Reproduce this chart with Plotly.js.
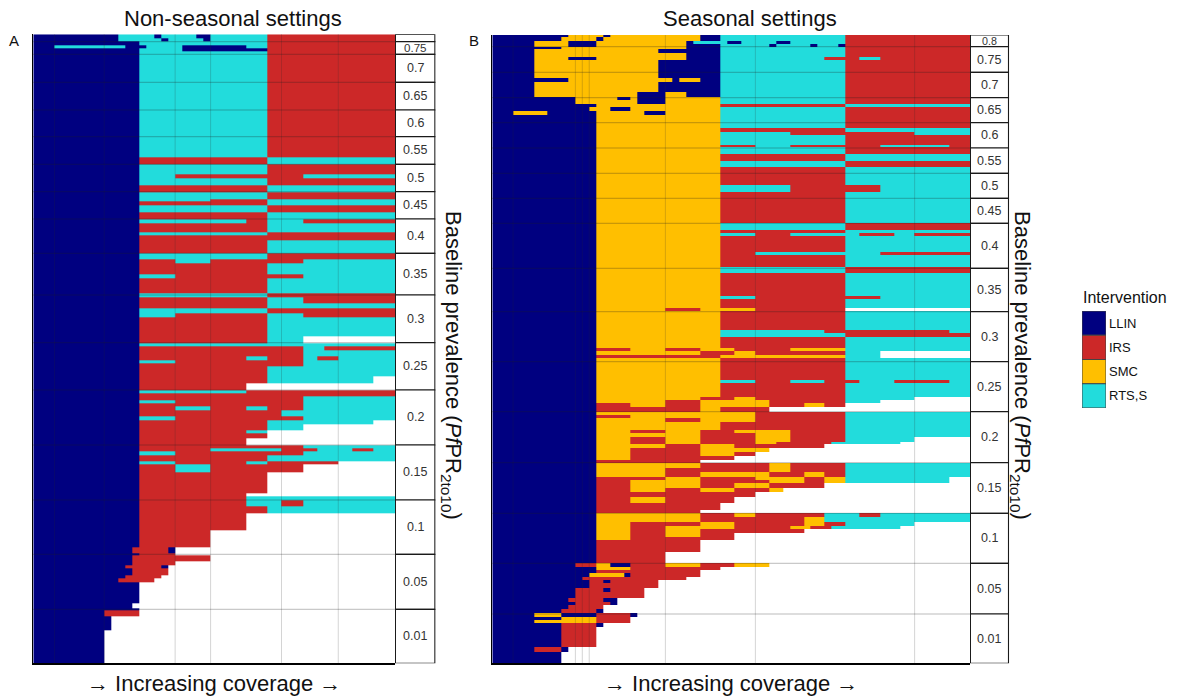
<!DOCTYPE html>
<html>
<head>
<meta charset="utf-8">
<script src="https://cdn.plot.ly/plotly-3.0.1.min.js"></script>
<style>html,body{margin:0;padding:0;background:#fff;}#chart{width:1177px;height:696px;}</style>
</head>
<body>
<div id="chart"></div>
<script>
// ---------------- DATA ----------------
const interventions = ['LLIN', 'IRS', 'SMC', 'RTS,S'];
const runCodes = ['W', 'L', 'R', 'S', 'T']; // W = no intervention added

// Panel A (non-seasonal): 51 coverage steps
const nColsA = 51;
const bandLabelsA = ['', '0.75', '0.7', '0.65', '0.6', '0.55', '0.5', '0.45', '0.4', '0.35', '0.3', '0.25', '0.2', '0.15', '0.1', '0.05', '0.01'];
const bandSizesA = [7.4, 12.6, 28, 27.7, 26.7, 27.6, 27.4, 27.3, 34.3, 41.7, 47.7, 47.3, 55, 55, 54.3, 55, 54];
const rowSizesA = [4.0, 3.4, 3.5, 3.1, 3.0, 106.4, 6.6, 10.0, 4.0, 6.7, 7.3, 6.7, 2.7, 4.0, 6.6, 6.7, 4.3, 9.4, 2.3, 5.0,
  13.3, 6.0, 4.0, 11.0, 4.0, 15.0, 4.0, 6.0, 4.7, 5.3, 3.7, 19.0, 7.3, 2.7, 4.0, 6.0, 4.0, 3.3, 3.4, 10.0,
  6.6, 6.7, 3.3, 3.4, 3.3, 3.3, 3.4, 3.3, 6.0, 4.0, 4.0, 6.0, 3.3, 4.7, 7.0, 3.3, 3.4, 3.3, 6.7, 2.3,
  8.0, 21.3, 2.7, 4.0, 6.0, 7.0, 17.0, 17.0, 6.0, 2.0, 6.0, 4.0, 3.3, 6.7, 3.3, 3.7, 21.0, 5.0, 2.0, 6.0,
  14.0, 33.3];
const rowRunsA = ['L12T5L1T5L2T8R18', 'L12T6L1T5L1T8R18', 'L15T18R18', 'L3T10L3T5L9T3R18', 'L15T6L12R18',
  'L15T18R18', 'L15R18T18', 'L15T18R18', 'L15T5R18T13', 'L15T18R18', 'L15R18T18', 'L15T18R18', 'L15T10R8T18',
  'L15R18T18', 'L15T18R18', 'L15R18T18', 'L15T15R3T5R13', 'L15R18T18', 'L15T18R18', 'L15R36',
  'L15R18T18', 'L15T18R18', 'L15R5T5R13T13', 'L15R18T18', 'L15T5R18T13', 'L15R18T18', 'L15T18R18', 'L15R18T5R13',
  'L15R18T18', 'L15T18R18', 'L15T5R13T5R13', 'L15R18T18', 'L15R18T5W13', 'L15T36', 'L15R23T3R10', 'L15R23T13',
  'L15R15T3R5T2R3T8', 'L15T5R18T13', 'L15R23T13', 'L15R18T18', 'L15R18T15W3', 'L15R15W21', 'L15T15R21', 'L15R36',
  'L15R23T13', 'L15T5R18T13', 'L15R23T13', 'L15R5T5R5T3R5T13', 'L15R20T16', 'L15T5R18T13', 'L15R18T15W3',
  'L15R18T5W13', 'L15R15T3W18', 'L15R18W18', 'L15R15W21', 'L15R23T13', 'L15R10T10R5T5R3T3', 'L15T5R18T13',
  'L15R18T18', 'L15T5R10T3R10W8', 'L15R5T5R13W13', 'L15R18W18', 'L15R15W21', 'L15R15T21', 'L15R15T5R3T13',
  'L15R18T18', 'L15R15W21', 'L15R10W26', 'L14R5L1W31', 'L15R5W31', 'L14R11W26', 'L14R6W31', 'L13R5L1W32',
  'L14R5W32', 'L13R5W33', 'L12R5W34', 'L15W36', 'L14W37', 'L15W36', 'L10R5W36', 'L11W40', 'L10W41'];

// Panel B (seasonal): 69 coverage steps
const nColsB = 69;
const bandLabelsB = ['0.8', '0.75', '0.7', '0.65', '0.6', '0.55', '0.5', '0.45', '0.4', '0.35', '0.3', '0.25', '0.2', '0.15', '0.1', '0.05', '0.01'];
const bandSizesB = [11.7, 25.6, 25.4, 25, 25.3, 25.3, 25, 25, 45, 43.4, 50, 50, 51, 50.6, 50, 50.7, 49.3];
const rowSizesB = [1.7, 4.0, 3.3, 2.7, 2.6, 4.0, 3.4, 3.3, 18.3, 3.4, 10.0, 5.6, 2.7, 4.0, 3.3, 3.7, 4.0, 13.3, 3.4, 3.3,
  10.0, 2.3, 6.7, 6.7, 6.0, 18.3, 6.7, 31.6, 6.7, 2.7, 3.0, 16.0, 3.3, 11.7, 6.6, 22.7, 3.0, 9.3, 2.4, 19.3,
  3.3, 3.4, 11.6, 2.7, 4.0, 3.0, 22.0, 3.3, 13.4, 3.3, 3.3, 4.0, 4.4, 3.3, 3.3, 3.4, 8.3, 3.0, 4.0, 4.7,
  2.3, 4.0, 3.7, 4.3, 4.0, 3.3, 4.7, 4.0, 4.7, 3.3, 3.3, 5.0, 4.0, 4.4, 6.6, 6.7, 3.3, 3.7, 4.7, 4.3,
  3.3, 3.7, 3.7, 3.3, 4.0, 7.7, 11.6, 3.7, 3.0, 3.3, 3.7, 3.0, 3.0, 5.3, 3.7, 6.3, 3.7, 3.0, 4.0, 4.3,
  3.4, 3.3, 3.0, 3.7, 20.0, 5.6, 11.0];
const rowRunsB = ['L11S5L1S13L3T18R18', 'L10S5L1S14L3T18R18', 'L6S5L4S13L1T5L2T5L2T8R18', 'L6S5L4S13L5T7L1T5L1T3L1R18',
  'L10S18L5T18R18', 'L6S18L9T18R18', 'L6S22L5T18R18', 'L6S5L4S13L5T15R5T3R13', 'L6S18L9T18R18', 'L11S15L1S3L3T18R18',
  'L6S18L9T18R18', 'L6S15L4S3L5T18R18', 'L12S6L2S1L4S8T18R18', 'L12S9L4S8T18R18', 'L15S18R18T18', 'L14S3L3S13T18R18',
  'L3S5L7S7L3S8T18R18', 'L15S18T18R18', 'L15S18R18T18', 'L15S18T10R18T8',
  'L15S18T18R18', 'L15S18R5T5R13T10R3', 'L15S18T18R18', 'L15S18R18T18', 'L15S18T18R18', 'L15S18R18T18',
  'L15S18T10R13T13', 'L15S18R18T18', 'L15S18T18R18', 'L15S18R18T18', 'L15S18T5R5T10R5T3R8', 'L15S18R18T18',
  'L15S18R5T18R13', 'L15S18R18T18', 'L15S18T18R18', 'L15S18R18T18', 'L15S18T5R18T13', 'L15S18R18T18',
  'L15S10R5S8R13W18', 'L15S18R18T18',
  'L15S18T15R18T3', 'L15S18T18R18', 'L15S18R18T18', 'L15R5S5R5S5R8S8T18', 'L15S15R5S3R13T5W13', 'L15R18S18T5W13',
  'L15S18R18T18', 'L15S18T5R5T5R5T5R8T3', 'L15S18R18T18', 'L15S15R5S3R13T10W8', 'L15S10R5S10R11T5W13',
  'L15R5S5R5S5S5R5S3R3W18', 'L15R15S3R7W29', 'L15S23R13T18', 'L15R5S18R13T18', 'L15S10R5S8R13T18', 'L15S18R18T18',
  'L15S5R5S5R5S8R8T18', 'L15S15R8S5R8T18', 'L15S5R5S5R8S5R8T10W8',
  'L15S5R5S5R8S3R8T10W10', 'L15S10R5S5R13W21', 'L15S5R10S10W29', 'L15S5R10S5R3W31', 'L15S5R15W34', 'L15R15W39',
  'L15S15R10S3R8T18', 'L15S10R15S3R8T18', 'L15S10R5S10R5S3R3T18', 'L15R10S5R8S7R3S3T15W3',
  'L15R5S10R10S5R3S3T15W3', 'L15R5S10R5S5R8W21', 'L15R5S5R5S5R5S2W27', 'L15R23W31', 'L15R5S5R10W34', 'L15R18W36',
  'L15R15W39', 'L15S15R5S3R10T5R3T13', 'L15S15R15S3T21', 'L15S5R10S5R10S3R3T10W8',
  'L15S5R5S10R8S3R3T10W10', 'L15S5R5S5R15W24', 'L15S5R5S5R5W34', 'L15S5R15W34', 'L15R15W39', 'L15R15W39', 'L15R10W44',
  'L12R3S2L3R5S5R5S5W29', 'L15S5R13W36', 'L15R15W39', 'L14S5L1R10W39', 'L13R15W41', 'L14R2L1R7W45', 'L14R10W45',
  'L12R4L1R5W47', 'L12R10W47', 'L11R5L2W51', 'L12R5L1W51', 'L11R5W53', 'L10R5L1W53',
  'L6S4L5R5L1W48', 'L10S5R5W49', 'L6S9R5W49', 'L10R5L1W53', 'L10R5W54', 'L6R4L1W58', 'L10W59'];

// faint divider columns seen in the picture
const dividerColsA = [3, 10, 20, 25, 35, 43];
const dividerColsB = [3, 12, 13, 14, 25, 38, 61];

// ---------------- STYLE ----------------
const colours = ['#ffffff', '#000080', '#cc2828', '#ffbf00', '#22dcdc'];
const FONT = 'Liberation Sans, Arial, sans-serif';
const W = 1177, H = 696;

// ---------------- BUILD ----------------
function runsToRow(s, n) {
  const row = [];
  const re = /([WLRST])(\d+)/g;
  let m;
  while ((m = re.exec(s))) {
    for (let i = 0; i < +m[2]; i++) row.push(runCodes.indexOf(m[1]));
  }
  while (row.length < n) row.push(row[row.length - 1]);
  return row.slice(0, n);
}
function cumulative(arr) {
  const out = [0];
  arr.forEach(v => out.push(out[out.length - 1] + v));
  return out;
}
function range(n) { return Array.from({length: n + 1}, (_, i) => i); }

const cs = [];
colours.forEach((c, i) => { cs.push([i / colours.length, c]); cs.push([(i + 1) / colours.length, c]); });

function heat(runs, sizes, n, xa, ya) {
  return {
    type: 'heatmap', xaxis: xa, yaxis: ya,
    z: runs.map(r => runsToRow(r, n)),
    x: range(n), y: cumulative(sizes),
    zmin: -0.5, zmax: colours.length - 0.5, colorscale: cs,
    showscale: false, zsmooth: false, hoverinfo: 'skip'
  };
}
function boxes(sizes, xa, ya) {
  const base = cumulative(sizes).slice(0, sizes.length);
  return {
    type: 'bar', xaxis: xa, yaxis: ya, orientation: 'v',
    x: sizes.map(() => 0.5), y: sizes, base: base, width: 1,
    marker: {color: '#ffffff', line: {color: '#1a1a1a', width: 1.2}},
    hoverinfo: 'skip'
  };
}
const totalA = Math.max(rowSizesA.reduce((a, b) => a + b, 0), bandSizesA.reduce((a, b) => a + b, 0));
const totalB = Math.max(rowSizesB.reduce((a, b) => a + b, 0), bandSizesB.reduce((a, b) => a + b, 0));

const legendTrace = {
  type: 'bar', xaxis: 'x5', yaxis: 'y3',
  x: interventions.map(() => 0.5), y: interventions.map(() => 1),
  base: interventions.map((_, i) => i), width: 1,
  marker: {color: colours.slice(1), line: {color: '#444', width: 1}},
  hoverinfo: 'skip'
};

const data = [
  heat(rowRunsA, rowSizesA, nColsA, 'x', 'y'),
  boxes(bandSizesA, 'x2', 'y'),
  heat(rowRunsB, rowSizesB, nColsB, 'x3', 'y2'),
  boxes(bandSizesB, 'x4', 'y2'),
  legendTrace
];

function px(a, b) { return [a / W, b / W]; }
function py(top, bottom) { return [1 - bottom / H, 1 - top / H]; }
const hidden = {showgrid: false, zeroline: false, showticklabels: false, ticks: '', showline: false, fixedrange: true};

const shapes = [];
function dividers(cols, xa, ya) {
  cols.forEach(c => shapes.push({type: 'line', xref: xa, yref: ya + ' domain', x0: c, x1: c, y0: 0, y1: 1,
    line: {color: 'rgba(40,40,40,0.2)', width: 1}}));
}
function bandLines(sizes, xa, ya) {
  cumulative(sizes).slice(1, sizes.length).forEach(v => shapes.push({type: 'line', xref: xa + ' domain', yref: ya,
    x0: 0, x1: 1, y0: v, y1: v, line: {color: 'rgba(30,30,30,0.3)', width: 1}}));
}
dividers(dividerColsA, 'x', 'y');
dividers(dividerColsB, 'x3', 'y2');
bandLines(bandSizesA, 'x', 'y');
bandLines(bandSizesB, 'x3', 'y2');

const ann = (text, x, y, size, extra) => Object.assign({
  text: text, x: x / W, y: 1 - y / H, xref: 'paper', yref: 'paper', showarrow: false,
  xanchor: 'center', yanchor: 'middle', font: {family: FONT, size: size, color: '#111'}
}, extra || {});
const yLabel = 'Baseline prevalence (<i>Pf</i>PR<sub>2to10</sub>)';

const annotations = [
  ann('Non-seasonal settings', 233, 19, 22),
  ann('Seasonal settings', 750, 19, 22),
  ann('A', 14, 40, 15),
  ann('B', 474, 40, 15),
  ann('\u2192 Increasing coverage \u2192', 214, 683, 22),
  ann('\u2192 Increasing coverage \u2192', 731, 683, 22),
  ann(yLabel, 452, 365, 22, {textangle: 90}),
  ann(yLabel, 1021, 365, 22, {textangle: 90}),
  ann('Intervention', 1081, 298, 16, {xanchor: 'left'})
];
function boxLabels(labels, sizes, xa, ya) {
  const c = cumulative(sizes);
  labels.forEach((t, i) => {
    if (!t) return;
    annotations.push({text: t, xref: xa, yref: ya, x: 0.5, y: (c[i] + c[i + 1]) / 2, showarrow: false,
      xanchor: 'center', yanchor: 'middle',
      font: {family: FONT, size: Math.min(12.5, sizes[i] - 1), color: '#333'}});
  });
}
boxLabels(bandLabelsA, bandSizesA, 'x2', 'y');
boxLabels(bandLabelsB, bandSizesB, 'x4', 'y2');

const layout = {
  width: W, height: H, margin: {l: 0, r: 0, t: 0, b: 0},
  paper_bgcolor: '#fff', plot_bgcolor: '#fff', showlegend: false, barmode: 'overlay',
  xaxis: Object.assign({}, hidden, {domain: px(33.3, 395), range: [0, nColsA], showline: true, linecolor: '#000', linewidth: 2}),
  yaxis: Object.assign({}, hidden, {domain: py(34.3, 663.3), range: [totalA, 0], showline: true, linecolor: '#000', linewidth: 1.5}),
  xaxis2: Object.assign({}, hidden, {domain: px(395, 435.7), range: [-0.01, 1.02], anchor: 'y'}),
  xaxis3: Object.assign({}, hidden, {domain: px(492.3, 970), range: [0, nColsB], anchor: 'y2', showline: true, linecolor: '#000', linewidth: 2}),
  yaxis2: Object.assign({}, hidden, {domain: py(35, 663.3), range: [totalB, 0], anchor: 'x3', showline: true, linecolor: '#000', linewidth: 1.5}),
  xaxis4: Object.assign({}, hidden, {domain: px(970, 1009.3), range: [-0.01, 1.02], anchor: 'y2'}),
  xaxis5: Object.assign({}, hidden, {domain: px(1082, 1106), range: [0, 1], anchor: 'y3'}),
  yaxis3: Object.assign({}, hidden, {domain: py(311, 408), range: [interventions.length, 0], anchor: 'x5', side: 'right',
    showticklabels: true, tickvals: interventions.map((_, i) => i + 0.5), ticktext: interventions,
    tickfont: {family: FONT, size: 13, color: '#111'}, ticklabelstandoff: 2}),
  shapes: shapes,
  annotations: annotations
};

Plotly.newPlot('chart', data, layout, {staticPlot: true, displayModeBar: false});
</script>
</body>
</html>
